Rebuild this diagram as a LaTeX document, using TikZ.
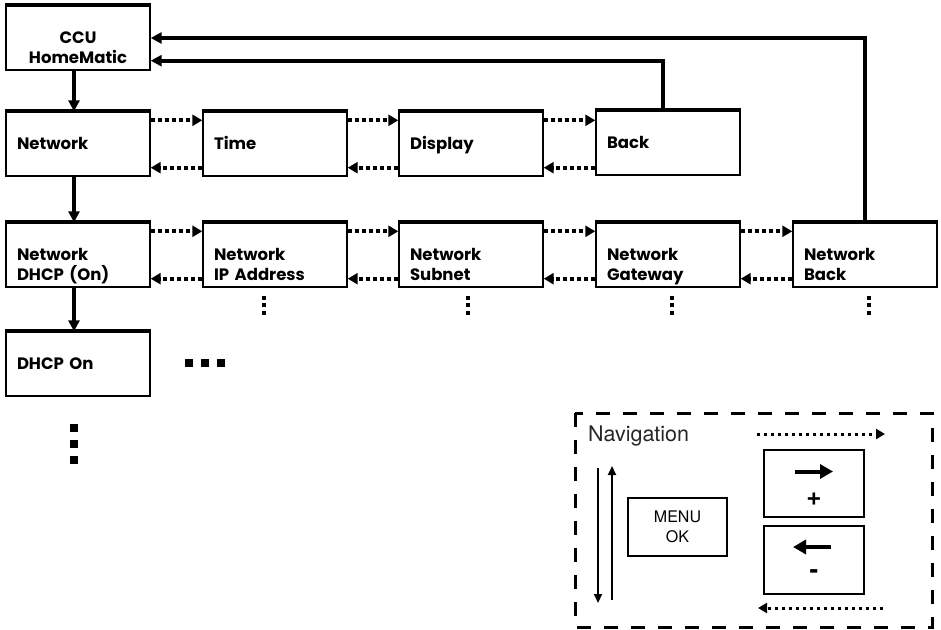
\documentclass[tikz,border=0pt]{standalone}
\usepackage{fontspec}
\setsansfont{TeX Gyre Heros}
\newfontfamily\boxfont{Poppins}
\usetikzlibrary{arrows.meta}
\tikzset{
  menubox/.style={draw, line width=1.4pt, text width=122pt, align=left, inner xsep=11pt, inner ysep=0pt,
    text height=37.5pt, text depth=26.5pt, font=\boxfont\bfseries\fontsize{16.5}{20}\selectfont},
  topbar/.style={line width=3.5pt},
  link/.style={line width=3.6pt, -{Triangle[length=11pt,width=11pt]}},
  nextarr/.style={line width=4pt, dash pattern=on 4pt off 3pt, -{Triangle[length=10pt,width=11pt]}},
  keybox/.style={draw, line width=2pt, inner sep=0pt, align=center, font=\sffamily\fontsize{16}{21}\selectfont}
}
\begin{document}
\begin{tikzpicture}[x=1pt, y=-1pt, line join=miter, >=Triangle]
\useasboundingbox (0,0) rectangle (941,629);
% menu boxes
\node[menubox, align=center] (ccu) at (78,38) {CCU\\HomeMatic};
\foreach\name/\x/\y/\txt in {net/78/144/Network, time/275/144/Time, disp/471/144/Display, back/668/143/Back,
    dhcp/78/255/{Network\\DHCP (On)}, ip/275/255/{Network\\IP Address}, sub/471/255/{Network\\Subnet},
    gw/668/255/{Network\\Gateway}, nb/865/255/{Network\\Back}, on/78/364/DHCP On}
  \node[menubox] (\name) at (\x,\y) {\txt};
\foreach\name in {ccu,net,time,disp,back,dhcp,ip,sub,gw,nb,on}
  \draw[topbar] ([yshift=1pt]\name.north west) -- ([yshift=1pt]\name.north east);
% down the levels
\draw[link] ([xshift=-4pt]ccu.south) -- ([xshift=-4pt]net.north);
\draw[link] ([xshift=-4pt]net.south) -- ([xshift=-4pt]dhcp.north);
\draw[link] ([xshift=-4pt]dhcp.south) -- ([xshift=-4pt]on.north);
% back to the CCU
\draw[link] (nb.north) |- (ccu.east);
\draw[link] ([xshift=-5pt]back.north) |- ([yshift=10pt]ccu.south east);
% left and right
\foreach\a/\b in {net/time, time/disp, disp/back, dhcp/ip, ip/sub, sub/gw, gw/nb}{
  \draw[nextarr] ([yshift=-9pt]\a.north east) -- ([yshift=-9pt]\a.north east-|\b.west);
  \draw[nextarr] ([yshift=9pt]\a.south east-|\b.west) -- ([yshift=9pt]\a.south east);
}
% more entries
\foreach\x in {264,468,672,869}
  \foreach\y in {298,305,313}
    \fill (\x-2,\y-2) rectangle (\x+2,\y+2);
\foreach\x in {189,205,221}
  \fill (\x-4,359) rectangle (\x+4,367);
\foreach\y in {428,444,460}
  \fill (70,\y-4) rectangle (78,\y+4);
% navigation
\draw[line width=3pt, dash pattern=on 14pt off 13pt] (575,413) rectangle (932,627);
\node[anchor=west, font=\sffamily\fontsize{21.5}{24}\selectfont, text=black!85, inner sep=0pt] (nav) at (588,436) {Navigation};
\node[keybox, minimum width=99pt, minimum height=58pt] (menu) at (677.5,527) {MENU\\[-1pt]OK};
\node[keybox, minimum width=100pt, minimum height=67pt] (plus) at (814,483.5) {};
\node[keybox, minimum width=100pt, minimum height=68pt] (minus) at (814,560) {};
\node[font=\sffamily\bfseries\fontsize{26}{26}\selectfont] at ([yshift=-16pt]plus.center) {+};
\node[font=\sffamily\bfseries\fontsize{26}{26}\selectfont] at ([yshift=-14pt]minus.center) {-};
\draw[line width=4pt, -{Triangle[length=13pt,width=14pt]}] ([xshift=-19pt,yshift=12pt]plus.center) -- ([xshift=19pt,yshift=12pt]plus.center);
\draw[line width=4pt, -{Triangle[length=13pt,width=14pt]}] ([xshift=17pt,yshift=13pt]minus.center) -- ([xshift=-21pt,yshift=13pt]minus.center);
\draw[line width=2pt, -{Triangle[length=9pt,width=8pt]}] (598,468) -- (598,603);
\draw[line width=2pt, -{Triangle[length=9pt,width=8pt]}] (612,600) -- (612,466);
\draw[line width=3pt, dash pattern=on 3pt off 4pt, -{Triangle[length=9pt,width=10pt]}] (757,434) -- (885,434);
\draw[line width=3pt, dash pattern=on 3pt off 4pt, -{Triangle[length=9pt,width=10pt]}] (883,608) -- (758,608);
\end{tikzpicture}
\end{document}
